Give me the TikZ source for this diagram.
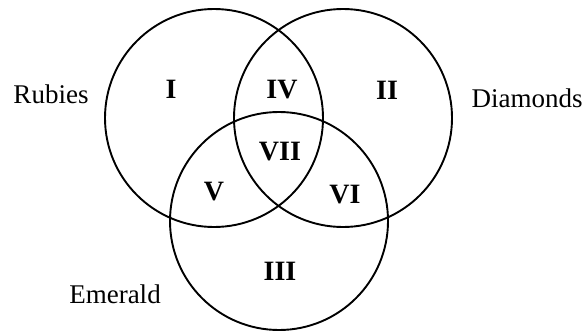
\documentclass[tikz,border=0pt]{standalone}
\usepackage{fontspec}
\setmainfont{Liberation Serif}
\begin{document}
\begin{tikzpicture}[x=1pt,y=-1pt,
  ring/.style={circle,draw,line width=1.9pt,inner sep=0pt,minimum size=218pt},
  setlabel/.style={anchor=base,inner sep=0pt,font=\fontsize{27}{30}\selectfont},
  region/.style={anchor=base,inner sep=0pt,font=\fontsize{28}{30}\selectfont\bfseries}]
\useasboundingbox (0,0) rectangle (585,332);
\node[ring] (rub) at (214,118) {};
\node[ring] (dia) at (343,118) {};
\node[ring] (eme) at (279,221) {};
\node[setlabel] (lr) at (51,103) {Rubies};
\node[setlabel] (ld) at (527,107) {Diamonds};
\node[setlabel] (le) at (115,303) {Emerald};
\node[region] (r1) at (171,98) {I};
\node[region] (r4) at (282,98) {IV};
\node[region] (r2) at (387,99) {II};
\node[region] (r7) at (280,160) {VII};
\node[region] (r5) at (214,200) {V};
\node[region] (r6) at (345,203) {VI};
\node[region] (r3) at (280,280) {III};
\end{tikzpicture}
\end{document}
